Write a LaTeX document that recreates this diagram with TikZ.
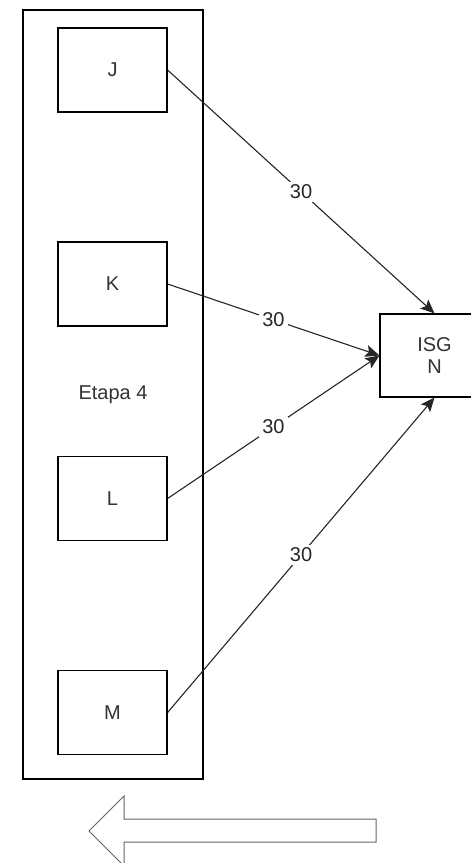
\documentclass[tikz,border=0pt]{standalone}
\usepackage{fontspec}
\setmainfont{Liberation Sans}
\usetikzlibrary{arrows.meta}
\tikzset{
  box/.style={draw=black, line width=1.2pt, minimum width=109pt, minimum height=84pt, inner sep=0pt, font=\fontsize{20}{24}\selectfont, text=black!80, align=center},
  edge/.style={draw=black!85, line width=1.1pt, -{Stealth[length=14pt,width=12pt,inset=3pt]}},
  lbl/.style={fill=white, inner sep=3pt, font=\fontsize{20}{24}\selectfont, text=black!85},
}
\begin{document}
\begin{tikzpicture}[x=1pt,y=-1pt]
\useasboundingbox (0,0) rectangle (471,863);
\clip (0,0) rectangle (471,863);
\fill[white] (0,0) rectangle (471,863);
\node[box, minimum width=180pt, minimum height=769pt] (stage) at (113,394.5) {Etapa 4};
\node[box] (J) at (112.5,70) {J};
\node[box] (K) at (112.5,284) {K};
\node[box] (L) at (112.5,498.5) {L};
\node[box] (M) at (112.5,712.5) {M};
\node[box, minimum height=83pt] (N) at (434.5,355.5) {ISG\\[-2pt]N};
\draw[edge] (J.east) -- node[lbl] {30} (N.north);
\draw[edge] (K.east) -- node[lbl] {30} (N.west);
\draw[edge] (L.east) -- node[lbl] {30} (N.west);
\draw[edge] (M.east) -- node[lbl] {30} (N.south);
\draw[draw=black!60, line width=1pt, line join=miter] (89,831) -- (124,796) -- (124,819) -- (376,819) -- (376,842) -- (124,842) -- (124,866) -- cycle;
\end{tikzpicture}
\end{document}
